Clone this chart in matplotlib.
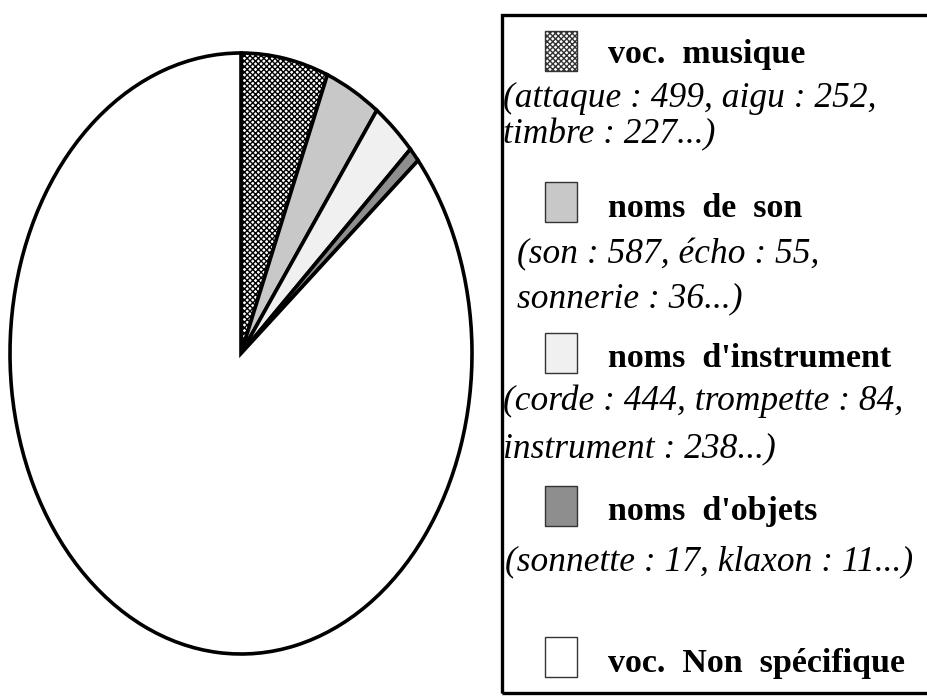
"""Pie chart: share of sound vocabulary categories, with a boxed side legend."""

import matplotlib
matplotlib.use("Agg")
import matplotlib.pyplot as plt
from matplotlib.patches import Rectangle

# ---- data -------------------------------------------------------------
categories = ["voc.  musique", "noms  de  son", "noms  d'instrument",
              "noms  d'objets", "voc.  Non  spécifique"]
shares = [6.1, 3.9, 3.1, 0.8, 86.1]          # percent
examples = [
    ["(attaque : 499, aigu : 252,", "timbre : 227...)"],
    ["(son : 587, écho : 55,", "sonnerie : 36...)"],
    ["(corde : 444, trompette : 84,", "instrument : 238...)"],
    ["(sonnette : 17, klaxon : 11...)"],
    [],
]
colors = ["white", "#c8c8c8", "#f0f0f0", "#8e8e8e", "white"]
hatches = ["xxxxxx", None, None, None, None]

W, H = 928, 696
plt.rcParams["hatch.linewidth"] = 1.0
SERIF = ["Liberation Serif", "DejaVu Serif"]


def fx(px):
    return px / W


def fy(py):
    return 1 - py / H


fig = plt.figure(figsize=(W / 100, H / 100), dpi=100)

# ---- elliptical pie -----------------------------------------------------
ax = fig.add_axes([fx(10), fy(654), (472 - 10) / W, (654 - 53) / H])
wedges, _ = ax.pie(shares, startangle=90, counterclock=False,
                   colors=colors,
                   wedgeprops=dict(edgecolor="black", linewidth=2.6))
for w, h in zip(wedges, hatches):
    w.set_clip_on(False)
    if h:
        w.set_hatch(h)
ax.set_aspect("auto")
ax.set_xlim(-1, 1)
ax.set_ylim(-1, 1)
ax.axis("off")

# ---- legend box (drawn by hand) ----------------------------------------
fig.patches.append(Rectangle((fx(502), fy(693)), fx(940) - fx(502),
                             fy(15) - fy(693), transform=fig.transFigure,
                             fill=False, edgecolor="black", linewidth=2.4))

swatch_top = [31, 182, 333, 486, 637]      # px
head_base = [63, 217, 367, 520, 672]
sub_base = [[107, 143], [263, 307], [410, 457], [570], []]
sub_x = [503, 517, 503, 505, 503]

for i, cat in enumerate(categories):
    r = Rectangle((fx(545), fy(swatch_top[i] + 40)), fx(577) - fx(545),
                  fy(swatch_top[i]) - fy(swatch_top[i] + 40),
                  transform=fig.transFigure, facecolor=colors[i],
                  edgecolor="#333333", linewidth=1.0, hatch=hatches[i])
    fig.patches.append(r)
    fig.text(fx(608), fy(head_base[i]), cat, family=SERIF, weight="bold",
             fontsize=24.5, va="baseline", ha="left")
    for line, yb in zip(examples[i], sub_base[i]):
        fig.text(fx(sub_x[i]), fy(yb), line, family=SERIF, style="italic",
                 fontsize=25.5, va="baseline", ha="left")

fig.savefig("out.png", dpi=100)
